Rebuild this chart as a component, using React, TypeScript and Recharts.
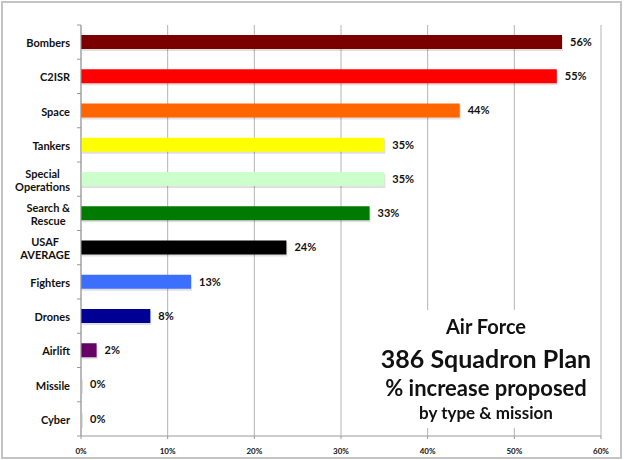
import { BarChart, Bar, XAxis, YAxis, CartesianGrid, Cell, LabelList } from "recharts";

const CATEGORIES = [
  "Bombers",
  "C2ISR",
  "Space",
  "Tankers",
  "Special\nOperations",
  "Search &\nRescue",
  "USAF\nAVERAGE",
  "Fighters",
  "Drones",
  "Airlift",
  "Missile",
  "Cyber",
];

// bar lengths, in percent
const INCREASE = [55.5, 54.9, 43.7, 35.0, 35.0, 33.3, 23.7, 12.7, 8.0, 1.8, 0, 0];
// printed labels
const LABELS = [56, 55, 44, 35, 35, 33, 24, 13, 8, 2, 0, 0];

const COLORS = [
  "#7a0000",
  "#ff0000",
  "#ff6600",
  "#ffff00",
  "#ccffcc",
  "#007a00",
  "#000000",
  "#3d6fff",
  "#000094",
  "#660066",
  "#dddddd",
  "#dddddd",
];

const X_TICKS = [0, 10, 20, 30, 40, 50, 60];

const TITLE_LINES = [
  { text: "Air Force", size: 20, cy: 328 },
  { text: "386 Squadron Plan", size: 25, cy: 360 },
  { text: "% increase proposed", size: 22, cy: 390 },
  { text: "by type & mission", size: 17, cy: 414 },
];

const FONT = "Lato, 'Open Sans', sans-serif";

const data = CATEGORIES.map((name, i) => ({
  name,
  value: INCREASE[i],
  label: LABELS[i],
  color: COLORS[i],
}));

const TICK_SIZE = 4;
const TICK_MARGIN = 7;

let ctx: CanvasRenderingContext2D | null = null;
const textWidth = (s: string) => {
  if (!ctx) ctx = document.createElement("canvas").getContext("2d");
  if (!ctx) return s.length * 6;
  ctx.font = `700 11px ${FONT}`;
  return ctx.measureText(s).width;
};

const CategoryTick = (props: any) => {
  const { x, y, payload, index } = props;
  const lines: string[] = String(payload.value).split("\n");
  const half = payload.offset ?? 17;
  const axisX = x + TICK_SIZE + TICK_MARGIN;
  const lineH = 13;
  const startY = y - ((lines.length - 1) * lineH) / 2;
  const multi = lines.length > 1;
  const widest = multi ? Math.max(...lines.map(textWidth)) : 0;
  const tx = multi ? x - widest / 2 : x;
  return (
    <g>
      <line x1={axisX - TICK_SIZE} x2={axisX} y1={y - half} y2={y - half} stroke="#999" />
      {index === CATEGORIES.length - 1 && (
        <line x1={axisX - TICK_SIZE} x2={axisX} y1={y + half} y2={y + half} stroke="#999" />
      )}
      <text
        x={tx}
        y={startY}
        textAnchor={multi ? "middle" : "end"}
        dominantBaseline="central"
        fontFamily={FONT}
        fontWeight={700}
        fontSize={11}
        fill="#111"
      >
        {lines.map((l, i) => (
          <tspan key={i} x={tx} y={startY + i * lineH}>
            {l}
          </tspan>
        ))}
      </text>
    </g>
  );
};

const ShadowBar = (props: any) => {
  const { x, y, width, height, payload } = props;
  if (width == null || height == null) return null;
  return (
    <g>
      <rect x={x + 1} y={y + 2} width={width} height={height} fill="#000" opacity={0.12} />
      <rect x={x} y={y} width={width} height={height} fill={payload?.color ?? props.fill} />
    </g>
  );
};

export default function App() {
  return (
    <div
      style={{
        position: "fixed",
        left: 0,
        top: 0,
        width: 624,
        height: 460,
        background: "#fff",
      }}
    >
      <div
        style={{
          position: "absolute",
          left: 1,
          top: 1,
          width: 621,
          height: 458,
          border: "2px solid #c4c4c4",
          boxSizing: "border-box",
        }}
      />
      <div style={{ position: "absolute", left: 0, top: 0 }}>
        <BarChart
          width={624}
          height={460}
          data={data}
          layout="vertical"
          margin={{ top: 25, right: 23, bottom: 4, left: 0 }}
          barSize={14}
        >
          <CartesianGrid horizontal={false} stroke="#b5b5b5" />
          <XAxis
            type="number"
            domain={[0, 60]}
            ticks={X_TICKS}
            tickFormatter={(v) => `${v}%`}
            height={20}
            tickSize={3}
            tickMargin={9}
            stroke="#999"
            tick={{ fontSize: 8, fontWeight: 700, fill: "#111", fontFamily: FONT }}
          />
          <YAxis
            type="category"
            dataKey="name"
            width={81}
            tickSize={TICK_SIZE}
            tickMargin={TICK_MARGIN}
            tickLine={false}
            stroke="#999"
            interval={0}
            tick={<CategoryTick />}
          />
          <Bar dataKey="value" isAnimationActive={false} minPointSize={1} shape={<ShadowBar />}>
            {data.map((d, i) => (
              <Cell key={`cell-${i}`} fill={d.color} />
            ))}
            <LabelList
              dataKey="label"
              position="right"
              offset={8}
              formatter={(v: any) => `${v}%`}
              style={{ fontSize: 11, fontWeight: 700, fill: "#111", fontFamily: FONT }}
            />
          </Bar>
        </BarChart>
      </div>
      <div
        style={{
          position: "absolute",
          left: 374,
          top: 310,
          width: 224,
          height: 118,
          background: "#fff",
        }}
      />
      {TITLE_LINES.map((t) => (
        <div
          key={t.text}
          style={{
            position: "absolute",
            left: 336,
            width: 300,
            top: t.cy - t.size * 0.58,
            fontFamily: FONT,
            fontWeight: 700,
            fontSize: t.size,
            lineHeight: 1,
            color: "#111",
            textAlign: "center",
            whiteSpace: "nowrap",
          }}
        >
          {t.text}
        </div>
      ))}
    </div>
  );
}
